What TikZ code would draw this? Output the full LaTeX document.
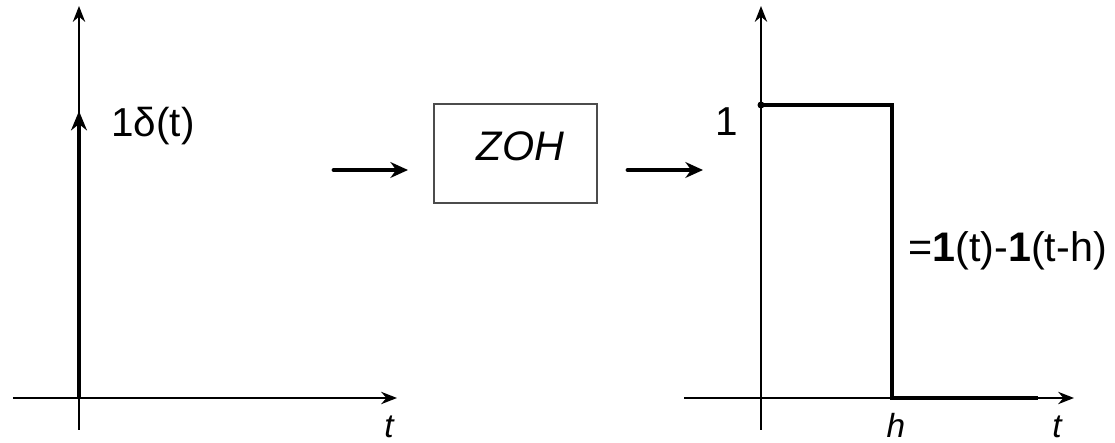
\documentclass[tikz,border=0pt]{standalone}
\usepackage{fontspec}
\setmainfont{Liberation Sans}
\usepackage{tikz}
\usetikzlibrary{arrows.meta, positioning, calc}
\tikzset{
    axis/.style={line width=1.1pt, draw=black,
                 -{Stealth[length=9pt, width=7pt]}},
    sig/.style={line width=2.8pt, draw=black},
    zbox/.style={rectangle, draw=black!70, line width=0.6pt,
                 minimum width=3.26cm, minimum height=1.98cm,
                 font=\fontsize{23.5}{25}\selectfont\itshape},
    lbl/.style={font=\fontsize{23}{25}\selectfont, inner sep=0pt},
    tlbl/.style={font=\fontsize{19}{21}\selectfont\itshape, inner sep=0pt,
                 anchor=base},
    flow/.style={line width=2.8pt, line cap=round,
                 -{Stealth[length=10pt, width=9pt]}}
}
\begin{document}
\begin{tikzpicture}
\useasboundingbox (0,0) rectangle (22.3,8.86);
% ── Input: impulse ───────────────────────────────────────────────────
\coordinate (o1)  at (1.58,0.90);
\coordinate (y1b) at (1.58,0.26);
\coordinate (y1t) at (1.58,8.74);
\coordinate (x1l) at (0.26,0.90);
\coordinate (x1r) at (7.94,0.90);
\coordinate (imp) at (1.58,6.64);
\draw[axis] (y1b) -- (y1t);
\draw[axis] (x1l) -- (x1r);
\draw[sig, -{Stealth[length=11pt, width=9pt]}] (o1) -- (imp);
\node[lbl, anchor=west] at (2.22,6.34) (dlbl) {1δ(t)};
\node[tlbl] at (7.78,0.10) (t1) {t};

% ── Hold block ───────────────────────────────────────────────────────
\node[zbox] at (10.31,5.79) (zoh) {\hspace{0.2cm}ZOH\vphantom{$_{|}$}};
\coordinate (a1s) at (6.68,5.46);
\coordinate (a1e) at (8.16,5.46);
\coordinate (a2s) at (12.56,5.46);
\coordinate (a2e) at (14.06,5.46);
\draw[flow] (a1s) -- (a1e);
\draw[flow] (a2s) -- (a2e);

% ── Output: pulse ────────────────────────────────────────────────────
\coordinate (o2)  at (15.22,0.90);
\coordinate (y2b) at (15.22,0.26);
\coordinate (y2t) at (15.22,8.74);
\coordinate (x2l) at (13.68,0.90);
\coordinate (x2r) at (21.48,0.90);
\coordinate (p1)  at (15.22,6.76);
\coordinate (p2)  at (17.84,6.76);
\coordinate (p3)  at (17.84,0.90);
\coordinate (p4)  at (20.76,0.90);
\draw[axis] (y2b) -- (y2t);
\draw[axis] (x2l) -- (x2r);
\draw[sig, line join=miter] (p1) -- (p2) -- (p3) -- (p4);
\fill (p1) circle (0.07);
\node[lbl] at (14.54,6.42) (one) {1};
\node[font=\fontsize{23.5}{25}\selectfont, anchor=west, inner sep=0pt]
    at (18.16,3.84) (step) {=\textbf{1}(t)-\textbf{1}(t-h)};
\node[tlbl] at (17.92,0.10) (h) {h};
\node[tlbl] at (21.14,0.10) (t2) {t};
\end{tikzpicture}
\end{document}
